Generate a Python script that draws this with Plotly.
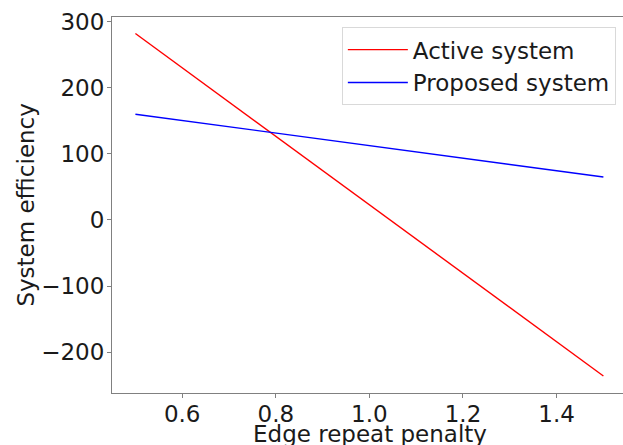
import plotly.graph_objects as go

penalty = [0.5, 1.5]
active_system = [282, -236]
proposed_system = [160, 65]

x_ticks = [0.6, 0.8, 1.0, 1.2, 1.4]
y_ticks = [-200, -100, 0, 100, 200, 300]

FONT = "DejaVu Sans"
TXT = "#1a1a1a"
FS = 23
font = dict(family=FONT, size=FS, color=TXT)

fig = go.Figure()
fig.add_trace(go.Scatter(x=penalty, y=active_system, mode="lines", name="Active system",
                         line=dict(color="#ff0000", width=1.4)))
fig.add_trace(go.Scatter(x=penalty, y=proposed_system, mode="lines", name="Proposed system",
                         line=dict(color="#0000ff", width=1.4)))

fig.update_layout(
    width=623, height=445,
    margin=dict(l=112, r=0, t=17, b=52),
    paper_bgcolor="white", plot_bgcolor="white",
    font=font,
    showlegend=True,
    legend=dict(x=0.986, y=0.973, xanchor="right", yanchor="top",
                bgcolor="white", bordercolor="#d9d9d9", borderwidth=1,
                font=dict(family=FONT, size=FS, color=TXT),
                itemwidth=60, tracegroupgap=0),
    annotations=[
        dict(text="Edge repeat penalty", xref="paper", yref="paper",
             x=(370 - 112) / 511, y=0, showarrow=False,
             xanchor="center", yanchor="middle", yshift=-41,
             font=dict(family=FONT, size=FS, color=TXT)),
        dict(text="System efficiency", xref="paper", yref="paper",
             x=0, y=0.501, showarrow=False, textangle=-90,
             xanchor="center", yanchor="middle", xshift=-86,
             font=dict(family=FONT, size=FS, color=TXT)),
    ],
)
fig.update_xaxes(
    range=[0.45, 1.5419], tickvals=x_ticks, ticktext=[f"{v:.1f}" for v in x_ticks],
    showgrid=False, zeroline=False, showline=True, linecolor="#808080", linewidth=1,
    mirror=True, ticks="outside", ticklen=4, tickcolor="#808080",
    ticklabelstandoff=-4, automargin=False,
)
fig.update_yaxes(
    range=[-261.7, 307], tickvals=y_ticks,
    showgrid=False, zeroline=False, showline=True, linecolor="#808080", linewidth=1,
    ticks="outside", ticklen=4, tickcolor="#808080",
    ticklabelstandoff=-2, automargin=False,
)

fig.write_html("out.html", config={"displayModeBar": False},
               post_script="document.body.style.margin='0px';document.body.style.overflow='hidden';")
